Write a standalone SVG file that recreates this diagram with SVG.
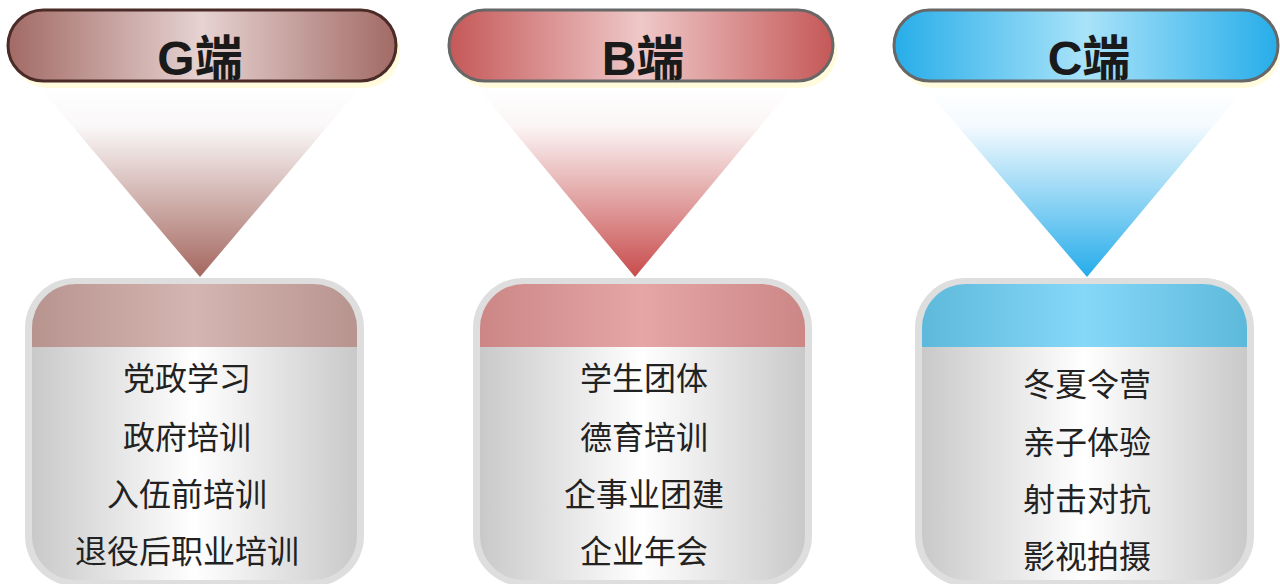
<svg xmlns="http://www.w3.org/2000/svg" width="1280" height="584" viewBox="0 0 1280 584">
<style>
.hdrtxt{font-family:"Liberation Sans","Noto Sans CJK SC",sans-serif;font-weight:bold;font-size:48px;fill:#1a1a1a;text-anchor:middle}
.item{font-family:"Noto Sans CJK SC","Noto Sans",sans-serif;font-size:32px;fill:#222;text-anchor:middle}
.shadow{fill:#fffbdc}
.outer{fill:#dedede}
</style>
<defs>
<linearGradient id="hG" x1="0" y1="0" x2="1" y2="0"><stop offset="0" stop-color="#a26a65"/><stop offset="0.5" stop-color="#e6d3d2"/><stop offset="1" stop-color="#a26a65"/></linearGradient>
<linearGradient id="hB" x1="0" y1="0" x2="1" y2="0"><stop offset="0" stop-color="#c55858"/><stop offset="0.5" stop-color="#efc8c8"/><stop offset="1" stop-color="#c55858"/></linearGradient>
<linearGradient id="hC" x1="0" y1="0" x2="1" y2="0"><stop offset="0" stop-color="#27ade9"/><stop offset="0.5" stop-color="#a9e3f9"/><stop offset="1" stop-color="#27ade9"/></linearGradient>
<linearGradient id="tG" x1="0" y1="0" x2="0" y2="1"><stop offset="0" stop-color="#ffffff"/><stop offset="0.2" stop-color="#faf8f8"/><stop offset="1" stop-color="#a4675f"/></linearGradient>
<linearGradient id="tB" x1="0" y1="0" x2="0" y2="1"><stop offset="0" stop-color="#ffffff"/><stop offset="0.2" stop-color="#fbf5f5"/><stop offset="1" stop-color="#c84c4c"/></linearGradient>
<linearGradient id="tC" x1="0" y1="0" x2="0" y2="1"><stop offset="0" stop-color="#ffffff"/><stop offset="0.2" stop-color="#f4fafe"/><stop offset="1" stop-color="#25acea"/></linearGradient>
<linearGradient id="body" x1="0" y1="0" x2="1" y2="0"><stop offset="0" stop-color="#c9c9c9"/><stop offset="0.5" stop-color="#ffffff"/><stop offset="1" stop-color="#c9c9c9"/></linearGradient>
<linearGradient id="bG" x1="0" y1="0" x2="1" y2="0"><stop offset="0" stop-color="#b8948f"/><stop offset="0.5" stop-color="#d4b5b1"/><stop offset="1" stop-color="#b8948f"/></linearGradient>
<linearGradient id="bB" x1="0" y1="0" x2="1" y2="0"><stop offset="0" stop-color="#cc8686"/><stop offset="0.5" stop-color="#e6a6a6"/><stop offset="1" stop-color="#cc8686"/></linearGradient>
<linearGradient id="bC" x1="0" y1="0" x2="1" y2="0"><stop offset="0" stop-color="#5db9db"/><stop offset="0.5" stop-color="#86d8f8"/><stop offset="1" stop-color="#5db9db"/></linearGradient>
<clipPath id="cG"><rect x="32" y="284" width="325" height="296" rx="44"/></clipPath>
<clipPath id="cB"><rect x="480" y="284" width="325" height="296" rx="44"/></clipPath>
<clipPath id="cC"><rect x="922" y="284" width="325" height="296" rx="44"/></clipPath>
</defs>

<g id="node-G-header">
<rect class="shadow" x="12" y="15" width="388" height="73" rx="36"/>
<rect x="8" y="10" width="388" height="71" rx="35.5" fill="url(#hG)" stroke="#4b2b27" stroke-width="3"/>
<text class="hdrtxt" x="200" y="75">G端</text>
</g>
<g id="node-B-header">
<rect class="shadow" x="453" y="15" width="384" height="73" rx="36"/>
<rect x="449" y="10" width="384" height="71" rx="35.5" fill="url(#hB)" stroke="#676767" stroke-width="3"/>
<text class="hdrtxt" x="643" y="75">B端</text>
</g>
<g id="node-C-header">
<rect class="shadow" x="898" y="15" width="382" height="73" rx="36"/>
<rect x="894" y="10" width="384" height="71" rx="35.5" fill="url(#hC)" stroke="#676767" stroke-width="3"/>
<text class="hdrtxt" x="1089" y="75">C端</text>
</g>

<g id="connectors">
<polygon points="40,88 360,88 200,277" fill="url(#tG)"/>
<polygon points="478,88 792,88 635,277" fill="url(#tB)"/>
<polygon points="925,88 1245,88 1087,277" fill="url(#tC)"/>
</g>

<g id="node-G-box">
<rect class="outer" x="25" y="278" width="339" height="308" rx="50"/>
<rect x="32" y="284" width="325" height="296" rx="44" fill="url(#body)"/>
<rect x="32" y="283" width="325" height="64" fill="url(#bG)" clip-path="url(#cG)"/>
<text class="item" x="187" y="390">党政学习</text>
<text class="item" x="187" y="449">政府培训</text>
<text class="item" x="187" y="506">入伍前培训</text>
<text class="item" x="187" y="563">退役后职业培训</text>
</g>
<g id="node-B-box">
<rect class="outer" x="473" y="278" width="339" height="308" rx="50"/>
<rect x="480" y="284" width="325" height="296" rx="44" fill="url(#body)"/>
<rect x="480" y="283" width="325" height="64" fill="url(#bB)" clip-path="url(#cB)"/>
<text class="item" x="644" y="390">学生团体</text>
<text class="item" x="644" y="449">德育培训</text>
<text class="item" x="644" y="506">企事业团建</text>
<text class="item" x="644" y="563">企业年会</text>
</g>
<g id="node-C-box">
<rect class="outer" x="915" y="278" width="339" height="308" rx="50"/>
<rect x="922" y="284" width="325" height="296" rx="44" fill="url(#body)"/>
<rect x="922" y="283" width="325" height="64" fill="url(#bC)" clip-path="url(#cC)"/>
<text class="item" x="1087" y="396">冬夏令营</text>
<text class="item" x="1087" y="454">亲子体验</text>
<text class="item" x="1087" y="511">射击对抗</text>
<text class="item" x="1087" y="568">影视拍摄</text>
</g>
</svg>
